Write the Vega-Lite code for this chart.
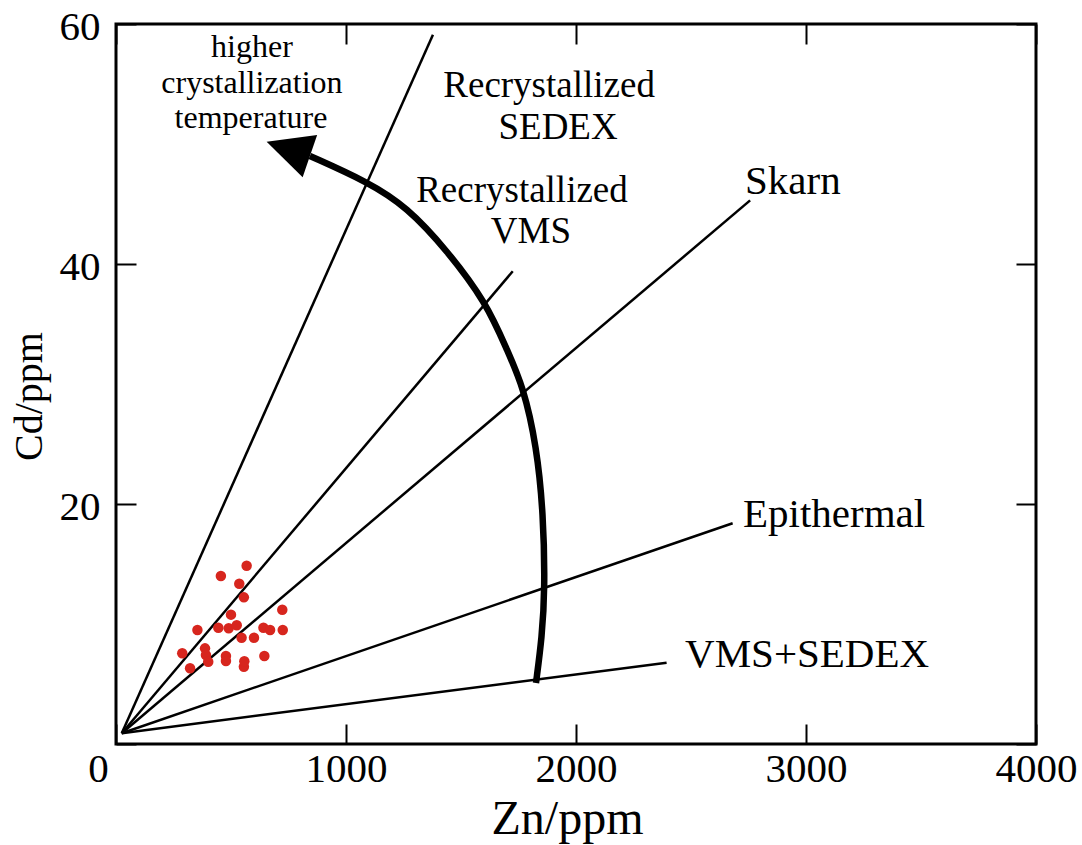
{
  "$schema": "https://vega.github.io/schema/vega-lite/v6.json",
  "width": 920,
  "height": 720,
  "autosize": {"type": "none"},
  "padding": {"left": 116, "top": 24, "right": 46, "bottom": 101},
  "background": "white",
  "config": {
    "view": {"stroke": "black", "strokeWidth": 3},
    "font": "Liberation Serif"
  },
  "datasets": {
    "lines": [
      {"g": "a", "x": 25, "y": 0.9}, {"g": "a", "x": 1378, "y": 59.1},
      {"g": "b", "x": 25, "y": 0.9}, {"g": "b", "x": 1725, "y": 39.4},
      {"g": "c", "x": 25, "y": 0.9}, {"g": "c", "x": 2757, "y": 45.3},
      {"g": "d", "x": 25, "y": 0.9}, {"g": "d", "x": 2681, "y": 18.4},
      {"g": "e", "x": 25, "y": 0.9}, {"g": "e", "x": 2394, "y": 6.78}
    ],
    "arc": [
      {"i": 0, "x": 1826, "y": 5.08},
      {"i": 1, "x": 1852, "y": 8.92},
      {"i": 2, "x": 1865, "y": 12.83},
      {"i": 3, "x": 1858, "y": 19.25},
      {"i": 4, "x": 1829, "y": 24.78},
      {"i": 5, "x": 1771, "y": 29.78},
      {"i": 6, "x": 1700, "y": 32.83},
      {"i": 7, "x": 1612, "y": 36.72},
      {"i": 8, "x": 1438, "y": 41.17},
      {"i": 9, "x": 1265, "y": 44.75},
      {"i": 10, "x": 1096, "y": 46.83},
      {"i": 11, "x": 843, "y": 49.0}
    ],
    "head": [{"x": 843, "y": 49.0}],
    "pts": [
      {"x": 568, "y": 14.86}, {"x": 456, "y": 14.0}, {"x": 536, "y": 13.36},
      {"x": 556, "y": 12.22}, {"x": 723, "y": 11.19}, {"x": 500, "y": 10.78},
      {"x": 354, "y": 9.5}, {"x": 445, "y": 9.69}, {"x": 490, "y": 9.64},
      {"x": 525, "y": 9.89}, {"x": 641, "y": 9.69}, {"x": 670, "y": 9.5},
      {"x": 725, "y": 9.5}, {"x": 546, "y": 8.86}, {"x": 600, "y": 8.86},
      {"x": 387, "y": 7.97}, {"x": 288, "y": 7.56}, {"x": 391, "y": 7.42},
      {"x": 478, "y": 7.33}, {"x": 645, "y": 7.33}, {"x": 401, "y": 6.86},
      {"x": 478, "y": 6.92}, {"x": 322, "y": 6.31}, {"x": 556, "y": 6.44},
      {"x": 558, "y": 6.9}
    ],
    "lblA": [
      {"t": "Skarn", "x": 2735, "y": 45.83},
      {"t": "Epithermal", "x": 2726, "y": 18.08},
      {"t": "VMS+SEDEX", "x": 2474, "y": 6.42}
    ],
    "lblB": [
      {"t": "Recrystallized", "x": 1883, "y": 53.92},
      {"t": "SEDEX", "x": 1922, "y": 50.42},
      {"t": "Recrystallized", "x": 1765, "y": 45.17},
      {"t": "VMS", "x": 1804, "y": 41.75}
    ],
    "lblC": [
      {"t": "higher", "x": 591, "y": 57.25},
      {"t": "crystallization", "x": 591, "y": 54.25},
      {"t": "temperature", "x": 587, "y": 51.33}
    ]
  },
  "resolve": {"axis": {"x": "independent", "y": "independent"}},
  "layer": [
    {
      "data": {"name": "lines"},
      "mark": {"type": "line", "stroke": "black", "strokeWidth": 2.5},
      "encoding": {
        "x": {
          "field": "x", "type": "quantitative",
          "scale": {"domain": [0, 4000], "nice": false, "zero": false},
          "axis": {
            "orient": "bottom", "values": [0, 1000, 2000, 3000, 4000], "format": "d",
            "domain": false, "grid": false,
            "tickSize": -20, "tickWidth": 2, "tickColor": "black",
            "labelFont": "Liberation Serif", "labelFontSize": 41, "labelColor": "black",
            "labelPadding": 57, "labelBaseline": "alphabetic", "labelFlush": false, "labelOverlap": false,
            "labelOffset": {"condition": {"test": "datum.value == 0", "value": -18}, "value": 0},
            "title": "Zn/ppm", "titleFont": "Liberation Serif", "titleFontSize": 48,
            "titleFontWeight": "normal", "titleColor": "black",
            "titleX": 451, "titleY": 89, "titleBaseline": "alphabetic", "titleAlign": "center"
          }
        },
        "y": {
          "field": "y", "type": "quantitative",
          "scale": {"domain": [0, 60], "nice": false, "zero": false},
          "axis": {
            "orient": "left", "values": [0, 20, 40, 60], "format": "d",
            "domain": false, "grid": false,
            "tickSize": -20, "tickWidth": 2, "tickColor": "black",
            "labelFont": "Liberation Serif", "labelFontSize": 41, "labelColor": "black",
            "labelPadding": 36, "labelBaseline": "middle", "labelFlush": false, "labelOverlap": false,
            "labelOffset": 3,
            "labelExpr": "datum.value == 0 ? '' : datum.label",
            "title": "Cd/ppm", "titleFont": "Liberation Serif", "titleFontSize": 40,
            "titleFontWeight": "normal", "titleColor": "black",
            "titleX": -75, "titleY": 372, "titleBaseline": "alphabetic", "titleAlign": "center", "titleAngle": 270
          }
        },
        "detail": {"field": "g", "type": "nominal"}
      }
    },
    {
      "data": {"name": "arc"},
      "mark": {"type": "line", "stroke": "black", "strokeWidth": 6.5, "interpolate": "basis"},
      "encoding": {
        "x": {
          "field": "x", "type": "quantitative",
          "axis": {
            "orient": "top", "values": [0, 1000, 2000, 3000, 4000],
            "domain": false, "grid": false, "labels": false, "title": null,
            "tickSize": -20, "tickWidth": 2, "tickColor": "black"
          }
        },
        "y": {
          "field": "y", "type": "quantitative",
          "axis": {
            "orient": "right", "values": [0, 20, 40, 60],
            "domain": false, "grid": false, "labels": false, "title": null,
            "tickSize": -20, "tickWidth": 2, "tickColor": "black"
          }
        },
        "order": {"field": "i", "type": "quantitative"}
      }
    },
    {
      "data": {"name": "head"},
      "mark": {"type": "point", "shape": "M-1.73,-0.57L0.29,-0.84L-0.29,0.85Z", "filled": true, "color": "black", "opacity": 1, "size": 2500},
      "encoding": {
        "x": {"field": "x", "type": "quantitative", "axis": null},
        "y": {"field": "y", "type": "quantitative", "axis": null}
      }
    },
    {
      "data": {"name": "pts"},
      "mark": {"type": "circle", "color": "#d7261e", "opacity": 1, "size": 110},
      "encoding": {
        "x": {"field": "x", "type": "quantitative", "axis": null},
        "y": {"field": "y", "type": "quantitative", "axis": null}
      }
    },
    {
      "data": {"name": "lblA"},
      "mark": {"type": "text", "font": "Liberation Serif", "fontSize": 41, "align": "left", "baseline": "alphabetic", "color": "black"},
      "encoding": {
        "x": {"field": "x", "type": "quantitative", "axis": null},
        "y": {"field": "y", "type": "quantitative", "axis": null},
        "text": {"field": "t"}
      }
    },
    {
      "data": {"name": "lblB"},
      "mark": {"type": "text", "font": "Liberation Serif", "fontSize": 37, "align": "center", "baseline": "alphabetic", "color": "black"},
      "encoding": {
        "x": {"field": "x", "type": "quantitative", "axis": null},
        "y": {"field": "y", "type": "quantitative", "axis": null},
        "text": {"field": "t"}
      }
    },
    {
      "data": {"name": "lblC"},
      "mark": {"type": "text", "font": "Liberation Serif", "fontSize": 32, "align": "center", "baseline": "alphabetic", "color": "black"},
      "encoding": {
        "x": {"field": "x", "type": "quantitative", "axis": null},
        "y": {"field": "y", "type": "quantitative", "axis": null},
        "text": {"field": "t"}
      }
    }
  ]
}
